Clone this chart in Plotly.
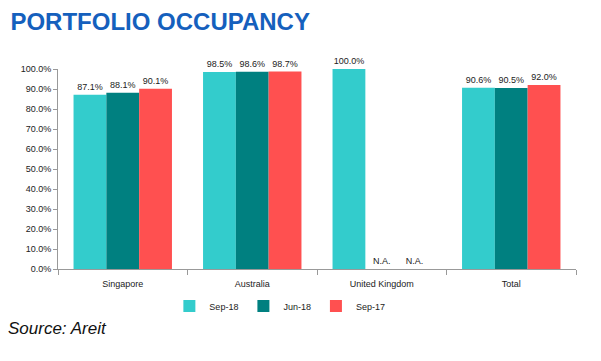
import plotly.graph_objects as go

categories = ["Singapore", "Australia", "United Kingdom", "Total"]
series_names = ["Sep-18", "Jun-18", "Sep-17"]
sep18 = [87.1, 98.5, 100.0, 90.6]
jun18 = [88.1, 98.6, 0, 90.5]
sep17 = [90.1, 98.7, 0, 92.0]
jun18_text = ["88.1%", "98.6%", "N.A.", "90.5%"]
sep17_text = ["90.1%", "98.7%", "N.A.", "92.0%"]
sep18_text = [f"{v:.1f}%" for v in sep18]
colors = ["#33CCCC", "#008080", "#FF5050"]
ytick_vals = [0, 10, 20, 30, 40, 50, 60, 70, 80, 90, 100]
ytick_text = [f"{v:.1f}%" for v in ytick_vals]

fig = go.Figure()
for name, vals, txt, col in zip(series_names, [sep18, jun18, sep17],
                                [sep18_text, jun18_text, sep17_text], colors):
    fig.add_trace(go.Bar(
        x=categories, y=vals, name=name, text=txt,
        textposition="outside", cliponaxis=False,
        textfont=dict(family="Liberation Sans", size=9, color="#222222"),
        marker=dict(color=col, line=dict(width=0)),
    ))

fig.update_layout(
    width=601, height=361,
    margin=dict(l=50, r=33, t=61, b=100),
    paper_bgcolor="white", plot_bgcolor="white",
    barmode="group", bargap=0.24, bargroupgap=0,
    font=dict(family="Liberation Sans", size=9, color="#333333"),
    title=dict(text="<b>PORTFOLIO OCCUPANCY</b>", x=0.004, xanchor="left",
               y=0.962, yanchor="middle",
               font=dict(family="Liberation Sans Narrow, Liberation Sans", size=24, color="#1560BD")),
    legend=dict(orientation="h", x=0.215, xanchor="left", y=-0.185, yanchor="middle",
                font=dict(size=9, color="#222222"), itemwidth=30, tracegroupgap=0),
    showlegend=True,
    uniformtext=dict(minsize=8, mode="show"),
)
fig.update_xaxes(showline=True, linecolor="#999999", linewidth=1,
                 ticks="outside", tickson="boundaries", ticklen=5, tickcolor="#999999",
                 ticklabelstandoff=6,
                 showgrid=False, tickfont=dict(size=9, color="#222222"))
fig.update_yaxes(range=[0, 100], tickvals=ytick_vals, ticktext=ytick_text,
                 showline=True, linecolor="#999999", linewidth=1,
                 ticks="outside", ticklen=4, tickcolor="#999999",
                 showgrid=False, zeroline=False,
                 tickfont=dict(size=9, color="#222222"))
fig.add_annotation(text="<i>Source: Areit</i>", xref="paper", yref="paper",
                   x=-0.1, y=-0.295, xanchor="left", yanchor="middle", showarrow=False,
                   font=dict(family="Liberation Sans Narrow, Liberation Sans", size=17, color="#111111"))

fig.write_html("out.html")
